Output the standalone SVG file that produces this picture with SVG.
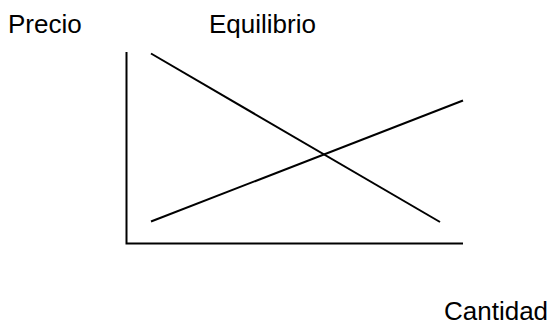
<svg xmlns="http://www.w3.org/2000/svg" width="552" height="325" viewBox="0 0 552 325">
<style>
text{font-family:"Liberation Sans",Arial,sans-serif;font-size:26px;fill:#000}
.l{stroke:#000;stroke-width:2;fill:none}
</style>
<rect width="552" height="325" fill="#fff"/>
<g id="labels">
<text id="precio" x="8" y="32.5">Precio</text>
<text id="equilibrio" x="209" y="32.5">Equilibrio</text>
<text id="cantidad" x="444" y="320">Cantidad</text>
</g>
<g id="axes">
<polyline class="l" points="126.5,52 126.5,243.5 463,243.5"/>
</g>
<g id="curves">
<line id="demanda" class="l" x1="151" y1="53.5" x2="440" y2="222"/>
<line id="oferta" class="l" x1="151" y1="221.5" x2="463" y2="100.5"/>
</g>
</svg>
